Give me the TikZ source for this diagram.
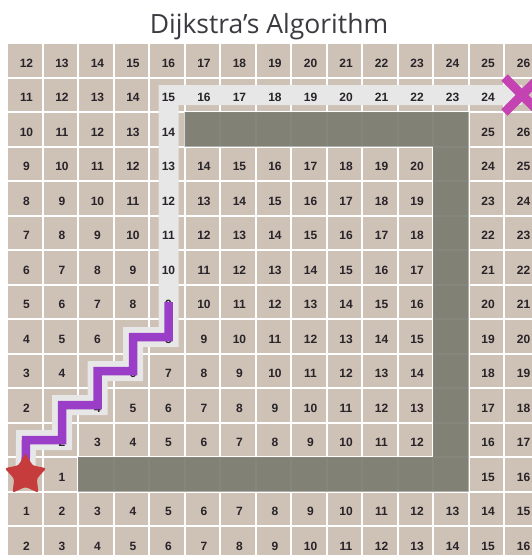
\documentclass[tikz,border=0pt]{standalone}
\usepackage{fontspec}
\newfontfamily\titlefont{Open Sans}
\newfontfamily\cellfont{Liberation Sans}
\usetikzlibrary{shapes.geometric,shapes.misc}

\definecolor{cellTan}{RGB}{206,193,181}
\definecolor{wallGray}{RGB}{123,124,113}
\definecolor{trailGray}{RGB}{231,231,231}
\definecolor{pathPurple}{RGB}{154,62,200}
\definecolor{starRed}{RGB}{198,60,60}
\definecolor{goalMagenta}{RGB}{196,66,178}
\definecolor{numDark}{RGB}{40,36,42}
\definecolor{titleDark}{RGB}{58,58,64}

\begin{document}
\begin{tikzpicture}[x=1pt, y=-1pt,
    dijCell/.style={fill=cellTan},
    dijWall/.style={fill=wallGray, fill opacity=0.92},
    dijTrail/.style={draw=trailGray, line width=20pt},
    dijPath/.style={draw=pathPurple, line width=8.5pt},
    dijNum/.style={font=\cellfont\bfseries\fontsize{12}{12}\selectfont, text=numDark, inner sep=0pt},
    dijStart/.style={star, star points=5, star point ratio=1.85, fill=starRed, minimum size=44pt, inner sep=0pt, rounded corners=2.5pt},
    dijGoal/.style={cross out, draw=goalMagenta, line width=9pt, minimum size=26pt, inner sep=0pt}]

    \clip (0,0) rectangle (532,555);
    \fill[white] (0,0) rectangle (532,555);

    \node[font=\titlefont\fontsize{26.5}{26.5}\selectfont, text=titleDark, anchor=base] (title) at (269,33) {Dijkstra’s Algorithm};

    % board
    \foreach \r in {0,...,14}
        \foreach \c in {0,...,14}
            \fill[dijCell] ({8+35.5*\c},{44+34.5*\r}) rectangle ++(33.5,32.5);

    % walls
    \fill[dijWall] (184.5,112) rectangle (468.5,146.5)
                   (433,112) rectangle (468.5,491.5)
                   (78,457) rectangle (468.5,491.5);

    % route through the cells
    \coordinate (home) at (25.5,475);
    \coordinate (t1) at (26,440);
    \coordinate (t2) at (62,440);
    \coordinate (t3) at (62,405);
    \coordinate (t4) at (97.5,405);
    \coordinate (t5) at (97.5,371);
    \coordinate (t6) at (133,371);
    \coordinate (t7) at (133,337);
    \coordinate (t8) at (168.5,337);
    \coordinate (t9) at (168.5,302);
    \coordinate (t10) at (168.5,95);
    \coordinate (target) at (522,95);

    \draw[dijTrail] (home) -- (t1) -- (t2) -- (t3) -- (t4) -- (t5) -- (t6) -- (t7) -- (t8) -- (t9) -- (t10) -- (target);

    % distances
    \foreach \vals [count=\r from 0] in {
        {12,13,14,15,16,17,18,19,20,21,22,23,24,25,26},
        {11,12,13,14,15,16,17,18,19,20,21,22,23,24,{}},
        {10,11,12,13,14,{},{},{},{},{},{},{},{},25,26},
        {9,10,11,12,13,14,15,16,17,18,19,20,{},24,25},
        {8,9,10,11,12,13,14,15,16,17,18,19,{},23,24},
        {7,8,9,10,11,12,13,14,15,16,17,18,{},22,23},
        {6,7,8,9,10,11,12,13,14,15,16,17,{},21,22},
        {5,6,7,8,9,10,11,12,13,14,15,16,{},20,21},
        {4,5,6,7,8,9,10,11,12,13,14,15,{},19,20},
        {3,4,5,6,7,8,9,10,11,12,13,14,{},18,19},
        {2,3,4,5,6,7,8,9,10,11,12,13,{},17,18},
        {1,2,3,4,5,6,7,8,9,10,11,12,{},16,17},
        {{},1,{},{},{},{},{},{},{},{},{},{},{},15,16},
        {1,2,3,4,5,6,7,8,9,10,11,12,13,14,15},
        {2,3,4,5,6,7,8,9,10,11,12,13,14,15,16}} {
        \foreach \v [count=\c from 0] in \vals
            \node[dijNum] (n-\r-\c) at ({26.5+35.5*\c},{63+34.5*\r}) {\v};
    }

    \draw[dijPath] (home) -- (t1) -- (t2) -- (t3) -- (t4) -- (t5) -- (t6) -- (t7) -- (t8) -- (t9);

    \node[dijStart] (start) at (home) {};
    \node[dijGoal] (goal) at (target) {};
\end{tikzpicture}
\end{document}
